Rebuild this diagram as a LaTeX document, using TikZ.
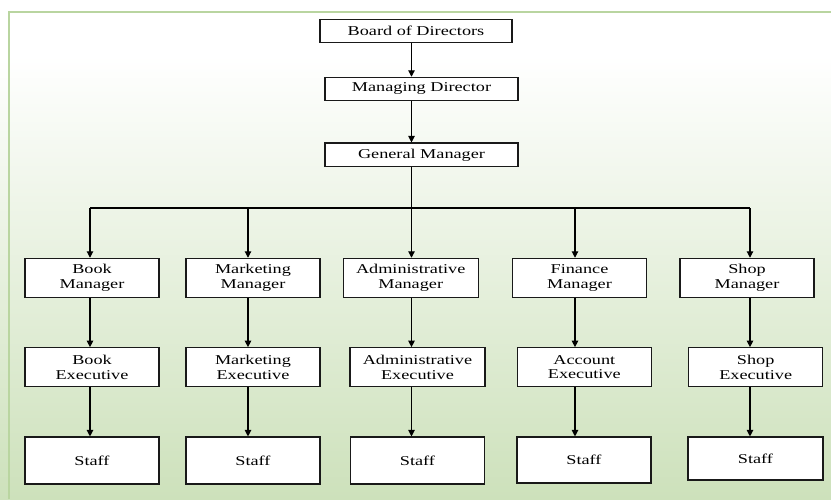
\documentclass[tikz,border=0pt]{standalone}
\usepackage{fontspec}
\setmainfont[FakeStretch=1.35]{Liberation Serif}
\usetikzlibrary{arrows.meta}
\definecolor{bgG}{RGB}{205,225,187}
\definecolor{frameG}{RGB}{185,213,160}
\begin{document}
\begin{tikzpicture}[x=1pt,y=-1pt,
  box/.style={draw=black!90, line width=1.1pt, fill=white, inner sep=0pt,
    font=\fontsize{13.5}{14.7}\selectfont, align=center, text=black},
  arr/.style={-{Triangle[length=6.5pt,width=6.5pt]}, line width=1.1pt, draw=black},
  ln/.style={line width=1.1pt, draw=black}]
\useasboundingbox (0,0) rectangle (831,499);
\fill[white] (0,0) rectangle (831,499);
\shade[top color=white, bottom color=bgG] (0,55) rectangle (831,499);
\draw[frameG, line width=2.5pt] (9,499) -- (9,12) -- (831,12);

% top chain
\node[box, minimum width=192pt, minimum height=23.5pt] (bod) at (416,31) {Board of Directors};
\node[box, minimum width=193pt, minimum height=23pt] (md) at (421.5,88.8) {Managing Director};
\node[box, minimum width=193pt, minimum height=23.6pt] (gm) at (421.5,154.8) {General Manager};

% branch points
\coordinate (c1) at (90,208);
\coordinate (c2) at (248,208);
\coordinate (c3) at (411.5,208);
\coordinate (c4) at (575,208);
\coordinate (c5) at (750,208);

% managers
\node[box, minimum width=134pt, minimum height=39pt] (m1) at (92,277.8) {Book\\Manager};
\node[box, minimum width=134pt, minimum height=39pt] (m2) at (253,277.8) {Marketing\\Manager};
\node[box, minimum width=135pt, minimum height=39pt] (m3) at (410.7,277.8) {Administrative\\Manager};
\node[box, minimum width=134.5pt, minimum height=39pt] (m4) at (579.5,277.8) {Finance\\Manager};
\node[box, minimum width=134pt, minimum height=39pt] (m5) at (747,277.8) {Shop\\Manager};

% executives
\node[box, minimum width=134pt, minimum height=39pt] (e1) at (92,367.2) {Book\\Executive};
\node[box, minimum width=134pt, minimum height=39pt] (e2) at (253,367.2) {Marketing\\Executive};
\node[box, minimum width=135pt, minimum height=39pt] (e3) at (417.5,367.2) {Administrative\\Executive};
\node[box, minimum width=134pt, minimum height=39pt] (e4) at (584.3,367.2) {Account\\Executive};
\node[box, minimum width=134pt, minimum height=39pt] (e5) at (755.7,367.2) {Shop\\Executive};

% staff
\node[box, minimum width=134pt, minimum height=47pt] (s1) at (92,460.5) {Staff};
\node[box, minimum width=134pt, minimum height=47pt] (s2) at (253,460.5) {Staff};
\node[box, minimum width=134pt, minimum height=47pt] (s3) at (417.5,460.5) {Staff};
\node[box, minimum width=134pt, minimum height=46pt] (s4) at (584,460) {Staff};
\node[box, minimum width=135pt, minimum height=43pt] (s5) at (755.5,458.5) {Staff};

% connectors
\draw[arr] (bod.south -| c3) -- (md.north -| c3);
\draw[arr] (md.south -| c3) -- (gm.north -| c3);
\draw[ln] (gm.south -| c3) -- (c3);
\draw[ln] (c1) -- (c5);
\foreach \i in {1,...,5}{
  \draw[arr] (c\i) -- (m\i.north -| c\i);
  \draw[arr] (m\i.south -| c\i) -- (e\i.north -| c\i);
  \draw[arr] (e\i.south -| c\i) -- (s\i.north -| c\i);
}
\end{tikzpicture}
\end{document}
